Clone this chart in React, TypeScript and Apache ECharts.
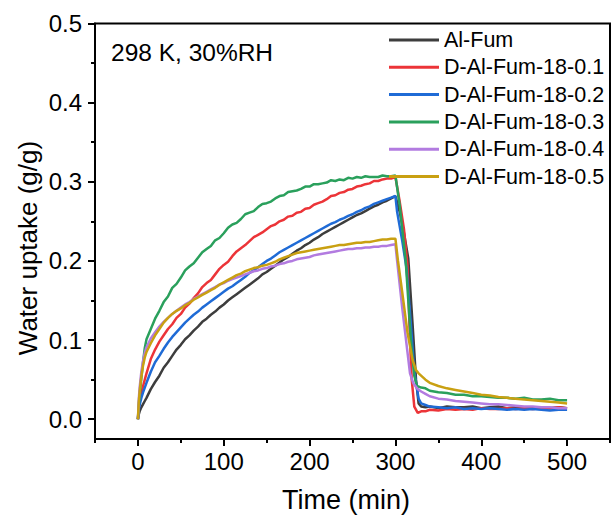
import React, { useEffect, useRef } from "react";
import * as echarts from "echarts";

// ---------- data ----------
const SERIES_NAMES = [
  "Al-Fum",
  "D-Al-Fum-18-0.1",
  "D-Al-Fum-18-0.2",
  "D-Al-Fum-18-0.3",
  "D-Al-Fum-18-0.4",
  "D-Al-Fum-18-0.5",
];
const COLORS = ["#3d3d3d", "#ec3438", "#1f6bd6", "#2aa05c", "#b27be0", "#c9a012"];

const X_TICKS = [0, 100, 200, 300, 400, 500];
const X_MINOR = [-50, 50, 150, 250, 350, 450, 550];
const Y_TICKS = [0, 0.1, 0.2, 0.3, 0.4, 0.5];
const Y_MINOR = [0.05, 0.15, 0.25, 0.35, 0.45];

// adsorption (shared time grid, min): 0,1,2,4,6,8 then 10..300 every 5
const T_ADS = [0, 1, 2, 4, 6, 8, 10, 15, 20, 25, 30, 35, 40, 45, 50, 55, 60, 65, 70, 75, 80, 85, 90, 95, 100, 105, 110, 115, 120, 125, 130, 135, 140, 145, 150, 155, 160, 165, 170, 175, 180, 185, 190, 195, 200, 205, 210, 215, 220, 225, 230, 235, 240, 245, 250, 255, 260, 265, 270, 275, 280, 285, 290, 295, 300];

const ADS_ALFUM = [0, 0.006, 0.010, 0.015, 0.019, 0.023,
  0.027, 0.038, 0.047, 0.055, 0.065, 0.072, 0.080, 0.088, 0.094, 0.101, 0.106, 0.112, 0.117, 0.123, 0.127, 0.132, 0.136, 0.141, 0.145, 0.150, 0.154, 0.158, 0.162, 0.166, 0.170, 0.174, 0.178, 0.183, 0.186, 0.190, 0.194, 0.198, 0.202, 0.205, 0.209, 0.213, 0.216, 0.220, 0.223, 0.227, 0.230, 0.234, 0.237, 0.240, 0.243, 0.246, 0.249, 0.252, 0.255, 0.258, 0.260, 0.263, 0.266, 0.269, 0.271, 0.274, 0.276, 0.279, 0.282];
const ADS_01 = [0, 0.014, 0.022, 0.033, 0.042, 0.050,
  0.058, 0.076, 0.088, 0.098, 0.106, 0.114, 0.120, 0.128, 0.133, 0.141, 0.146, 0.153, 0.159, 0.167, 0.172, 0.176, 0.183, 0.190, 0.195, 0.199, 0.206, 0.212, 0.216, 0.220, 0.225, 0.230, 0.233, 0.236, 0.240, 0.244, 0.246, 0.250, 0.252, 0.256, 0.257, 0.261, 0.262, 0.266, 0.267, 0.271, 0.273, 0.275, 0.278, 0.282, 0.283, 0.286, 0.287, 0.290, 0.291, 0.294, 0.295, 0.297, 0.298, 0.301, 0.301, 0.303, 0.304, 0.304, 0.306];
const ADS_02 = [0, 0.012, 0.018, 0.027, 0.034, 0.040,
  0.046, 0.060, 0.072, 0.080, 0.089, 0.097, 0.104, 0.110, 0.116, 0.122, 0.127, 0.132, 0.136, 0.141, 0.145, 0.149, 0.153, 0.157, 0.161, 0.165, 0.168, 0.172, 0.176, 0.180, 0.185, 0.188, 0.192, 0.196, 0.200, 0.203, 0.207, 0.211, 0.214, 0.217, 0.220, 0.223, 0.226, 0.229, 0.232, 0.235, 0.238, 0.241, 0.244, 0.247, 0.249, 0.252, 0.254, 0.257, 0.259, 0.262, 0.264, 0.267, 0.269, 0.272, 0.274, 0.276, 0.278, 0.280, 0.282];
const ADS_03 = [0, 0.018, 0.030, 0.052, 0.072, 0.090,
  0.101, 0.114, 0.127, 0.137, 0.148, 0.155, 0.166, 0.171, 0.179, 0.188, 0.193, 0.197, 0.204, 0.211, 0.215, 0.219, 0.226, 0.229, 0.235, 0.242, 0.246, 0.248, 0.253, 0.259, 0.261, 0.263, 0.268, 0.272, 0.273, 0.275, 0.279, 0.282, 0.283, 0.287, 0.288, 0.289, 0.291, 0.294, 0.294, 0.297, 0.297, 0.298, 0.299, 0.302, 0.301, 0.303, 0.302, 0.305, 0.304, 0.306, 0.305, 0.307, 0.306, 0.306, 0.306, 0.308, 0.307, 0.307, 0.308];
const ADS_04 = [0, 0.025, 0.040, 0.060, 0.074, 0.084,
  0.091, 0.102, 0.110, 0.117, 0.123, 0.128, 0.133, 0.137, 0.141, 0.145, 0.148, 0.152, 0.155, 0.158, 0.161, 0.164, 0.167, 0.170, 0.172, 0.175, 0.177, 0.179, 0.181, 0.183, 0.185, 0.187, 0.188, 0.190, 0.191, 0.193, 0.194, 0.196, 0.197, 0.199, 0.200, 0.202, 0.203, 0.204, 0.205, 0.207, 0.208, 0.209, 0.210, 0.211, 0.212, 0.213, 0.214, 0.215, 0.215, 0.216, 0.216, 0.217, 0.217, 0.218, 0.218, 0.219, 0.219, 0.220, 0.221];
const ADS_05 = [0, 0.022, 0.035, 0.054, 0.068, 0.078,
  0.085, 0.096, 0.106, 0.114, 0.122, 0.128, 0.133, 0.137, 0.140, 0.144, 0.147, 0.151, 0.154, 0.157, 0.160, 0.163, 0.166, 0.170, 0.173, 0.176, 0.179, 0.182, 0.184, 0.187, 0.189, 0.191, 0.192, 0.194, 0.195, 0.197, 0.199, 0.202, 0.204, 0.206, 0.208, 0.210, 0.211, 0.212, 0.213, 0.214, 0.215, 0.216, 0.217, 0.218, 0.219, 0.220, 0.220, 0.221, 0.222, 0.223, 0.223, 0.224, 0.224, 0.225, 0.226, 0.227, 0.227, 0.228, 0.228];

// desorption drop (per series)
const DROP_T_ALFUM = [305, 310, 315, 320, 324, 327, 330, 335];
const DROP_V_ALFUM = [0.262, 0.235, 0.203, 0.120, 0.050, 0.020, 0.016, 0.015];
const DROP_T_01 = [305, 310, 314, 317, 319, 322, 326, 330, 335];
const DROP_V_01 = [0.275, 0.240, 0.195, 0.100, 0.050, 0.016, 0.008, 0.010, 0.010];
const DROP_T_02 = [302, 308, 313, 318, 322, 325, 327, 330, 335];
const DROP_V_02 = [0.262, 0.225, 0.190, 0.120, 0.060, 0.040, 0.026, 0.020, 0.018];
const DROP_T_03 = [305, 312, 318, 322, 325, 330, 335];
const DROP_V_03 = [0.270, 0.200, 0.100, 0.055, 0.042, 0.040, 0.039];
const DROP_T_04 = [302, 308, 314, 317, 321, 326, 330, 335];
const DROP_V_04 = [0.200, 0.140, 0.085, 0.058, 0.045, 0.038, 0.035, 0.032];
const DROP_T_05 = [303, 308, 314, 320, 324, 327, 335];
const DROP_V_05 = [0.200, 0.160, 0.110, 0.075, 0.062, 0.058, 0.050];

// tail (shared time grid)
const T_TAIL = [340, 350, 360, 370, 380, 390, 400, 410, 420, 430, 440, 450, 460, 470, 480, 490, 500];
const TAIL_ALFUM = [0.016, 0.014, 0.016, 0.015, 0.015, 0.016, 0.014, 0.015, 0.016, 0.014, 0.015, 0.015, 0.014, 0.015, 0.014, 0.015, 0.014];
const TAIL_01 = [0.012, 0.011, 0.013, 0.012, 0.013, 0.012, 0.014, 0.013, 0.013, 0.014, 0.013, 0.014, 0.013, 0.014, 0.014, 0.015, 0.014];
const TAIL_02 = [0.016, 0.015, 0.014, 0.015, 0.013, 0.014, 0.013, 0.014, 0.013, 0.012, 0.013, 0.012, 0.013, 0.012, 0.011, 0.012, 0.012];
const TAIL_03 = [0.036, 0.034, 0.033, 0.031, 0.031, 0.029, 0.029, 0.028, 0.027, 0.027, 0.026, 0.027, 0.025, 0.025, 0.026, 0.024, 0.024];
const TAIL_04 = [0.029, 0.026, 0.025, 0.023, 0.022, 0.021, 0.020, 0.019, 0.019, 0.018, 0.017, 0.016, 0.016, 0.015, 0.015, 0.014, 0.014];
const TAIL_05 = [0.046, 0.042, 0.039, 0.037, 0.035, 0.033, 0.031, 0.030, 0.028, 0.027, 0.026, 0.025, 0.024, 0.023, 0.022, 0.021, 0.020];

const ADS = [ADS_ALFUM, ADS_01, ADS_02, ADS_03, ADS_04, ADS_05];
const DROP_T = [DROP_T_ALFUM, DROP_T_01, DROP_T_02, DROP_T_03, DROP_T_04, DROP_T_05];
const DROP_V = [DROP_V_ALFUM, DROP_V_01, DROP_V_02, DROP_V_03, DROP_V_04, DROP_V_05];
const TAIL = [TAIL_ALFUM, TAIL_01, TAIL_02, TAIL_03, TAIL_04, TAIL_05];

const FONT = "Liberation Sans, Arial, sans-serif";

function buildSeries(i: number) {
  const pts: number[][] = [];
  T_ADS.forEach((t, k) => pts.push([t, ADS[i][k]]));
  DROP_T[i].forEach((t, k) => pts.push([t, DROP_V[i][k]]));
  T_TAIL.forEach((t, k) => pts.push([t, TAIL[i][k]]));
  return pts;
}

export default function App() {
  const ref = useRef<HTMLDivElement>(null);
  useEffect(() => {
    document.body.style.margin = "0";
    if (!ref.current) return;
    const chart = echarts.init(ref.current, undefined, { renderer: "svg" });
    const axisCommon = {
      type: "value" as const,
      splitLine: { show: false },
    };
    chart.setOption({
      animation: false,
      backgroundColor: "#fff",
      grid: {
        left: 95,
        top: 23.5,
        width: 515,
        height: 415.5,
        show: true,
        borderColor: "#000",
        borderWidth: 2,
        containLabel: false,
      },
      legend: {
        data: SERIES_NAMES,
        orient: "vertical",
        left: 389,
        top: 29,
        padding: 0,
        icon: "rect",
        itemWidth: 50,
        itemHeight: 3,
        itemGap: 5.3,
        textStyle: { fontSize: 21.5, fontFamily: FONT, color: "#000", lineHeight: 21 },
      },
      xAxis: [
        {
          ...axisCommon,
          min: -50,
          max: 550,
          position: "bottom",
          axisLine: { show: true, onZero: false, lineStyle: { color: "#000", width: 2 } },
          axisTick: { show: true, customValues: X_TICKS, length: 7, lineStyle: { color: "#000", width: 2 } },
          axisLabel: { customValues: X_TICKS, fontSize: 24, fontFamily: FONT, color: "#000", margin: 10 },
        },
        {
          ...axisCommon,
          min: -50,
          max: 550,
          position: "bottom",
          axisLine: { show: false, onZero: false },
          axisTick: { show: true, customValues: X_MINOR, length: 4, lineStyle: { color: "#000", width: 2 } },
          axisLabel: { show: false },
        },
      ],
      yAxis: [
        {
          ...axisCommon,
          min: -0.025,
          max: 0.5,
          position: "left",
          axisLine: { show: true, onZero: false, lineStyle: { color: "#000", width: 2 } },
          axisTick: { show: true, customValues: Y_TICKS, length: 7, lineStyle: { color: "#000", width: 2 } },
          axisLabel: {
            customValues: Y_TICKS,
            fontSize: 24,
            fontFamily: FONT,
            color: "#000",
            margin: 13,
            formatter: (v: number) => v.toFixed(1),
          },
        },
        {
          ...axisCommon,
          min: -0.025,
          max: 0.5,
          position: "left",
          axisLine: { show: false, onZero: false },
          axisTick: { show: true, customValues: Y_MINOR, length: 4, lineStyle: { color: "#000", width: 2 } },
          axisLabel: { show: false },
        },
      ],
      series: SERIES_NAMES.map((name, i) => ({
        name,
        type: "line",
        xAxisIndex: 0,
        yAxisIndex: 0,
        data: buildSeries(i),
        showSymbol: false,
        symbol: "none",
        lineStyle: { color: COLORS[i], width: 2.5 },
        itemStyle: { color: COLORS[i] },
      })),
      graphic: [
        {
          type: "text",
          x: 111,
          y: 52,
          style: {
            text: "298 K, 30%RH",
            fontSize: 24.5,
            fontFamily: FONT,
            fill: "#000",
            textVerticalAlign: "middle",
          },
        },
        {
          type: "text",
          x: 346,
          y: 500,
          style: {
            text: "Time (min)",
            fontSize: 27,
            fontFamily: FONT,
            fill: "#000",
            textAlign: "center",
            textVerticalAlign: "middle",
          },
        },
        {
          type: "text",
          x: 28,
          y: 248,
          rotation: Math.PI / 2,
          style: {
            text: "Water uptake (g/g)",
            fontSize: 26,
            fontFamily: FONT,
            fill: "#000",
            textAlign: "center",
            textVerticalAlign: "middle",
          },
        },
      ],
    });
    return () => chart.dispose();
  }, []);
  return <div ref={ref} style={{ width: 612, height: 521 }} />;
}
